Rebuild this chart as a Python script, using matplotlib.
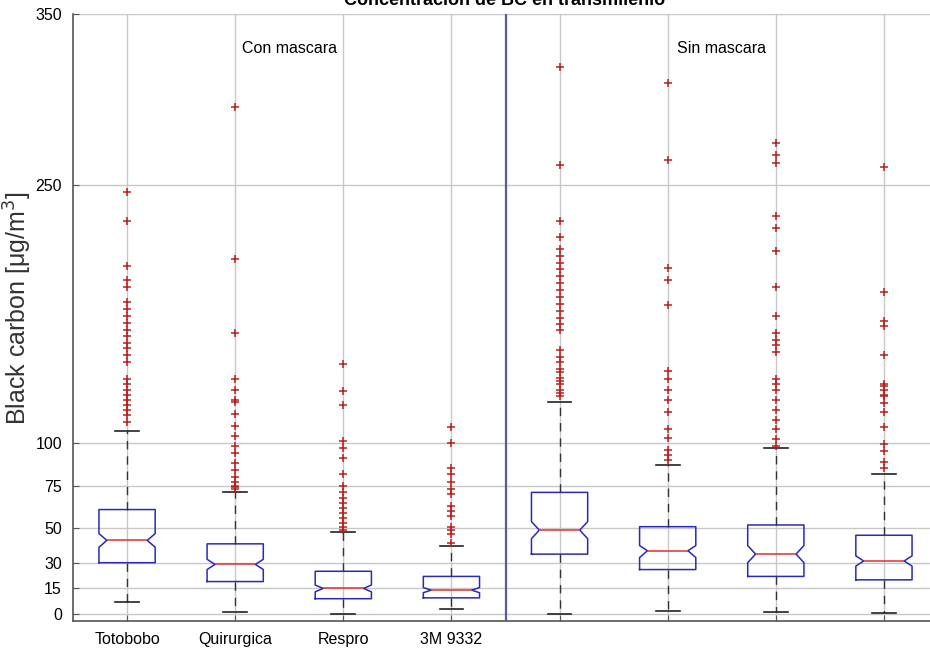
import matplotlib
matplotlib.use("Agg")
import matplotlib.pyplot as plt

# Concentracion de BC en transmilenio - boxplots
grupos = ["Totobobo", "Quirurgica", "Respro", "3M 9332",
          "Totobobo", "Quirurgica", "Respro", "3M 9332"]
etiquetas_x = ["Totobobo", "Quirurgica", "Respro", "3M 9332", "", "", "", ""]

medianas = [43, 29, 15, 14, 49, 37, 35, 31]
q1 = [30, 19, 9, 9.5, 35, 26, 22, 20]
q3 = [61, 41, 25, 22, 71, 51, 52, 46]
bigote_bajo = [7, 1, 0, 3, 0, 2, 1, 0.5]
bigote_alto = [107, 71, 48, 40, 124, 87, 97, 82]
notch_bajo = [39, 26, 13, 12.5, 44, 33, 30, 28]
notch_alto = [47, 32, 17, 15.5, 54, 40, 40, 34]

atipicos = [
    [246, 229, 203, 195, 191, 182, 178, 174, 170, 166, 162, 158, 155, 151, 147,
     137, 134, 131, 128, 125, 122, 119, 116, 112],
    [296, 207, 164, 137, 131, 125, 124, 117, 110, 104, 98, 94, 88, 84, 80,
     77, 75, 74, 73],
    [146, 130, 122, 101, 97, 91, 82, 75, 71, 68, 65, 62, 59, 56, 53, 51, 49],
    [109, 100, 85, 82, 77, 73, 70, 63, 60, 57, 51, 49, 47, 41.5],
    [319, 262, 229, 220, 213, 209, 205, 201, 197, 193, 189, 185, 181, 177,
     173, 169, 166, 154, 150, 147, 143, 141, 138, 136, 134, 131, 129, 127],
    [310, 265, 202, 195, 180, 142, 137, 131, 125, 118, 108, 103, 96, 93, 90],
    [275, 268, 263, 232, 225, 212, 191, 174, 164, 160, 157, 153, 137, 134,
     131, 125, 119, 113, 108, 102, 98],
    [261, 188, 171, 168, 151, 134, 131, 127, 133, 128, 123, 118, 109, 99,
     95, 89, 85],
]

yticks = [0, 15, 30, 50, 75, 100, 250, 350]

fuente = ["Liberation Sans", "DejaVu Sans"]
ancho = 0.52

stats = []
for i in range(len(grupos)):
    stats.append({
        "med": medianas[i], "q1": q1[i], "q3": q3[i],
        "whislo": bigote_bajo[i], "whishi": bigote_alto[i],
        "cilo": notch_bajo[i], "cihi": notch_alto[i],
        "fliers": atipicos[i], "label": etiquetas_x[i],
    })

fig = plt.figure(figsize=(9.3, 6.61), dpi=100)
ax = fig.add_axes([73 / 930, 40 / 661, 865 / 930, 607 / 661])

posiciones = list(range(1, len(grupos) + 1))
art = ax.bxp(stats, positions=posiciones, widths=ancho, shownotches=True,
             capwidths=0.22,
             boxprops=dict(color="#2a2ab8", linewidth=1.1),
             medianprops=dict(color="#e03030", linewidth=1.1),
             whiskerprops=dict(color="#333333", linestyle=(0, (6, 5)),
                               linewidth=1),
             capprops=dict(color="#222222", linewidth=1.2),
             flierprops=dict(marker="+", markeredgecolor="#b82020",
                             markersize=6, markeredgewidth=1.1,
                             linestyle="none"))

# muescas menos profundas, como en MATLAB
for pos, caja, med in zip(posiciones, art["boxes"], art["medians"]):
    xs = caja.get_xdata()
    nuevos = []
    for x in xs:
        d = x - pos
        if abs(abs(d) - ancho * 0.25) < 1e-6:
            d = d / 0.25 * 0.36
        nuevos.append(pos + d)
    caja.set_xdata(nuevos)
    med.set_xdata([pos - ancho * 0.36, pos + ancho * 0.36])

ax.set_xlim(0.5, 8.5)
ax.set_ylim(-4, 350)
ax.set_yticks(yticks)
ax.set_yticklabels([str(v) for v in yticks], family=fuente, fontsize=11.5)
ax.set_xticks(posiciones)
ax.set_xticklabels(etiquetas_x, family=fuente, fontsize=11.5)
ax.tick_params(direction="in", length=4, color="#555555", pad=8)

ax.grid(True, color="#c8c8c8", linewidth=1)
ax.set_axisbelow(True)
for lado in ["top", "right"]:
    ax.spines[lado].set_visible(False)
for lado in ["left", "bottom"]:
    ax.spines[lado].set_color("#555555")
    ax.spines[lado].set_linewidth(1.2)

ax.axvline(4.5, color="#5a5aa8", linewidth=1.6)

ax.text(2.5, 330, "Con mascara", family=fuente, fontsize=11.5, ha="center",
        va="center")
ax.text(6.5, 330, "Sin mascara", family=fuente, fontsize=11.5, ha="center",
        va="center")

ax.set_ylabel("Black carbon [\u03bcg/m$^3$]", family="Liberation Sans",
              fontsize=18, color="#333333")
ax.yaxis.set_label_coords(-0.045, 0.515)

fig.text(505 / 930, 1 - 5 / 661, "Concentraci\u00f3n de BC en transmilenio",
         family=fuente, fontsize=13, fontweight="bold", ha="center",
         va="baseline")

fig.savefig("out.png", dpi=100)
